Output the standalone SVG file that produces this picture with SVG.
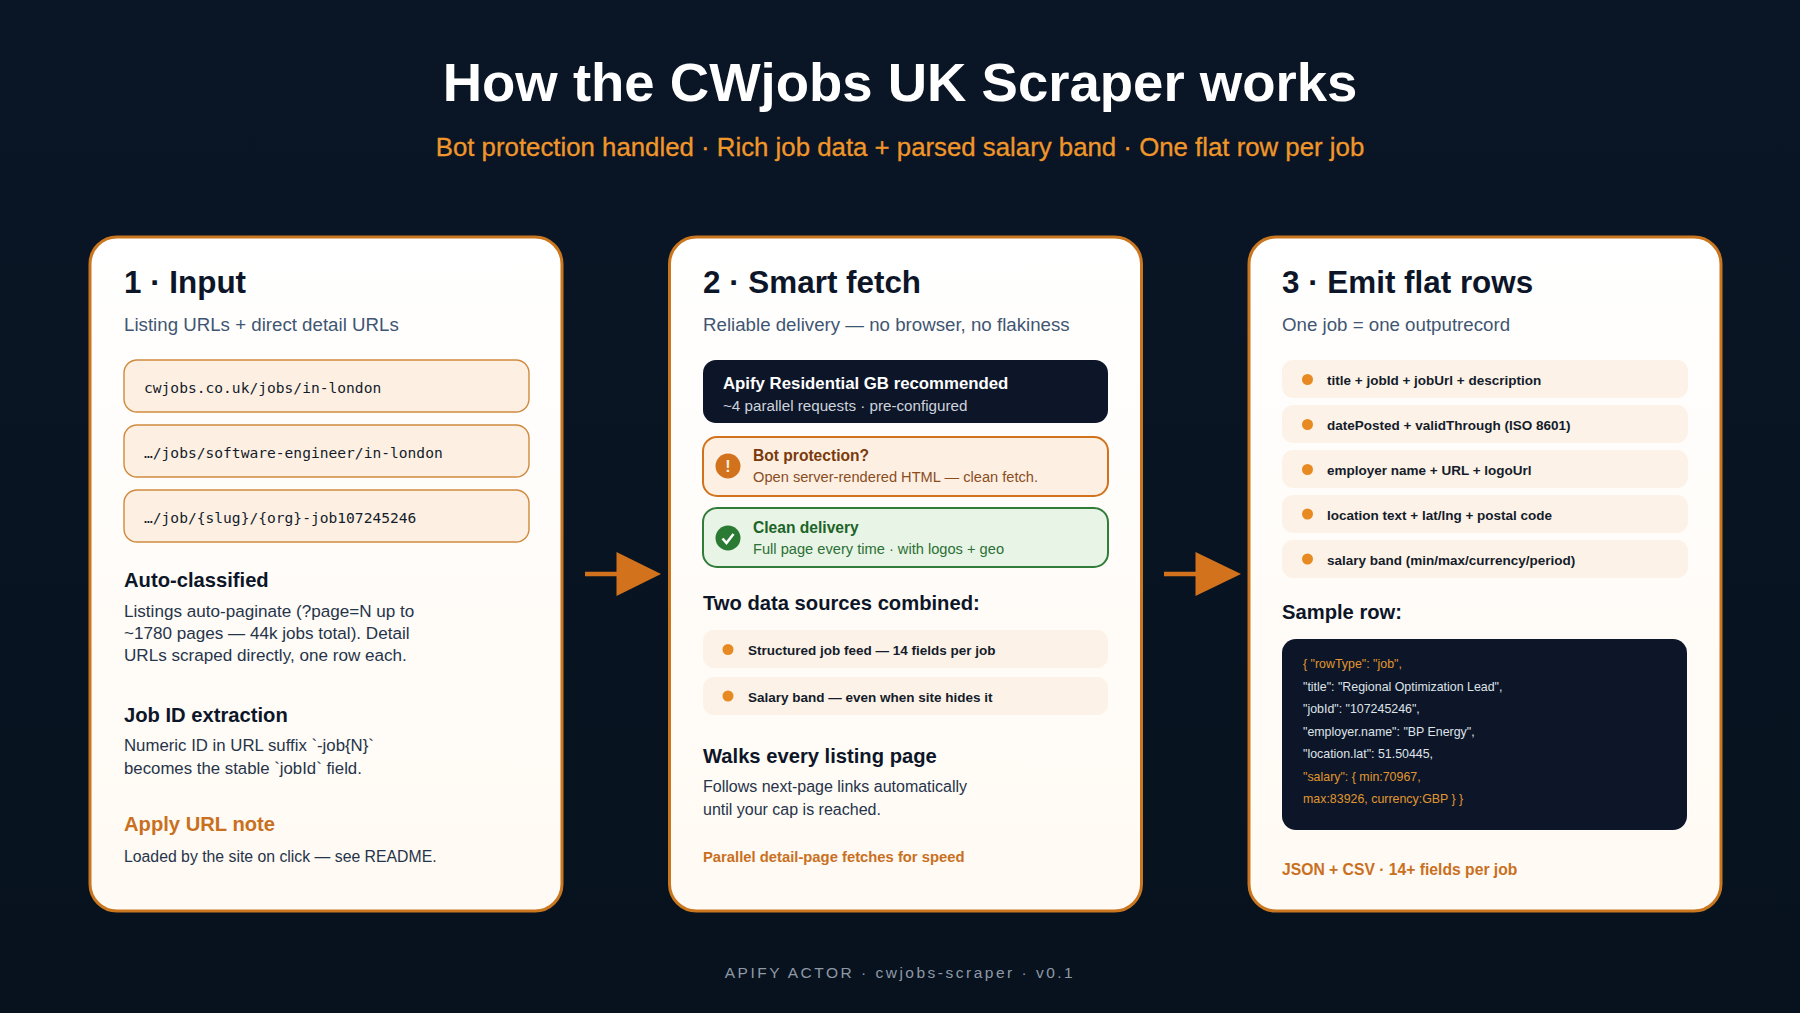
<svg xmlns="http://www.w3.org/2000/svg" width="1800" height="1013" viewBox="0 0 1800 1013">
<defs>
<linearGradient id="cardFill" x1="0" y1="0" x2="0" y2="1"><stop offset="0" stop-color="#ffffff"/><stop offset="0.3" stop-color="#fffdfb"/><stop offset="1" stop-color="#fffaf3"/></linearGradient>
<linearGradient id="bgFill" x1="0" y1="0" x2="0" y2="1"><stop offset="0" stop-color="#0a1626"/><stop offset="1" stop-color="#07121e"/></linearGradient>
</defs>
<style>
text{font-family:"Liberation Sans",Arial,sans-serif}
.card{fill:url(#cardFill);stroke:#c9761f;stroke-width:3}
.h{font-size:31.4px;font-weight:700;fill:#0d1628}
.sub{font-size:18.7px;fill:#3f5672}
.url{fill:#fdf0e3;stroke:#cf8a3e;stroke-width:1.4}
.mono{font-family:"DejaVu Sans Mono","Liberation Mono",monospace;font-size:14.6px;fill:#141c2b}
.h2{font-size:20.2px;font-weight:700;fill:#0d1628}
.b{font-size:16.8px;fill:#26344a}
.o{font-weight:700;fill:#c9701f}
.pill{fill:#fdf2e7}
.dot{fill:#e88a22}
.pt{font-size:13.5px;font-weight:700;fill:#141c2b}
.code{font-size:12.4px;fill:#dfe3e8}
.codeo{font-size:12.4px;fill:#e0962f}
.arr{fill:#d2721c;stroke:#d2721c}
</style>
<rect width="1800" height="1013" fill="url(#bgFill)"/>
<text x="900" y="101" text-anchor="middle" font-size="54.500" font-weight="700" fill="#ffffff">How the CWjobs UK Scraper works</text>
<text x="900" y="156" text-anchor="middle" font-size="25.800" fill="#f0962a" stroke="#f0962a" stroke-width="0.300">Bot protection handled · Rich job data + parsed salary band · One flat row per job</text>
<g id="connectors">
<g id="arrow1"><line class="arr" x1="585" y1="574" x2="620" y2="574" stroke-width="4.500"/><polygon class="arr" style="stroke:none" points="616.500,552 661,574 616.500,596"/></g>
<g id="arrow2"><line class="arr" x1="1164" y1="574" x2="1199" y2="574" stroke-width="4.500"/><polygon class="arr" style="stroke:none" points="1195.500,552 1241,574 1195.500,596"/></g>
</g>
<g id="card1">
<rect class="card" x="90" y="237" width="472" height="674" rx="27"/>
<text class="h" x="124" y="293">1 · Input</text>
<text class="sub" x="124" y="331">Listing URLs + direct detail URLs</text>
<rect class="url" x="124" y="360" width="405" height="52" rx="13"/>
<text class="mono" x="144" y="393">cwjobs.co.uk/jobs/in-london</text>
<rect class="url" x="124" y="425" width="405" height="52" rx="13"/>
<text class="mono" x="144" y="458">…/jobs/software-engineer/in-london</text>
<rect class="url" x="124" y="490" width="405" height="52" rx="13"/>
<text class="mono" x="144" y="523">…/job/{slug}/{org}-job107245246</text>
<text class="h2" x="124" y="587">Auto-classified</text>
<text class="b" x="124" y="617" style="font-size:17.100px">Listings auto-paginate (?page=N up to</text>
<text class="b" x="124" y="639" style="font-size:17.100px">~1780 pages — 44k jobs total). Detail</text>
<text class="b" x="124" y="661" style="font-size:17.100px">URLs scraped directly, one row each.</text>
<text class="h2" x="124" y="722">Job ID extraction</text>
<text class="b" x="124" y="751">Numeric ID in URL suffix `-job{N}`</text>
<text class="b" x="124" y="774">becomes the stable `jobId` field.</text>
<text class="o" x="124" y="831" font-size="20.200">Apply URL note</text>
<text class="b" x="124" y="862" style="font-size:15.800px">Loaded by the site on click — see README.</text>
</g>
<g id="card2">
<rect class="card" x="669.500" y="237" width="472" height="674" rx="27"/>
<text class="h" x="703" y="293">2 · Smart fetch</text>
<text class="sub" x="703" y="331">Reliable delivery — no browser, no flakiness</text>
<g id="proxy"><rect x="703" y="360" width="405" height="63" rx="13" fill="#0d1628"/>
<text x="723" y="389" font-size="16.800" font-weight="700" fill="#ffffff">Apify Residential GB recommended</text>
<text x="723" y="411" font-size="15.200" fill="#ccd3dd">~4 parallel requests · pre-configured</text></g>
<g id="bot"><rect x="703" y="437" width="405" height="59" rx="14" fill="#fdf0e3" stroke="#d2721c" stroke-width="2"/>
<circle cx="728" cy="466" r="12.500" fill="#d2721c"/><text x="728" y="472" text-anchor="middle" font-size="16" font-weight="700" fill="#fdf0e3">!</text>
<text x="753" y="461" font-size="15.600" font-weight="700" fill="#7a3a0c">Bot protection?</text>
<text x="753" y="482" font-size="14.650" fill="#8a4d1e">Open server-rendered HTML — clean fetch.</text></g>
<g id="clean"><rect x="703" y="508" width="405" height="59" rx="14" fill="#e8f4e6" stroke="#2f7d38" stroke-width="2"/>
<circle cx="728" cy="538" r="12.500" fill="#2a7a34"/><path d="M722.500 538.500l4 4.500 7-9" fill="none" stroke="#ffffff" stroke-width="2.600"/>
<text x="753" y="533" font-size="15.600" font-weight="700" fill="#1c6428">Clean delivery</text>
<text x="753" y="554" font-size="14.650" fill="#2b7034">Full page every time · with logos + geo</text></g>
<text class="h2" x="703" y="610">Two data sources combined:</text>
<rect class="pill" x="703" y="630" width="405" height="38" rx="11"/>
<circle class="dot" cx="728" cy="649.500" r="5.500"/>
<text class="pt" x="748" y="655">Structured job feed — 14 fields per job</text>
<rect class="pill" x="703" y="677" width="405" height="38" rx="11"/>
<circle class="dot" cx="728" cy="696" r="5.500"/>
<text class="pt" x="748" y="702">Salary band — even when site hides it</text>
<text class="h2" x="703" y="763">Walks every listing page</text>
<text class="b" x="703" y="792" style="font-size:16px">Follows next-page links automatically</text>
<text class="b" x="703" y="815" style="font-size:16px">until your cap is reached.</text>
<text class="o" x="703" y="862" font-size="14.800">Parallel detail-page fetches for speed</text>
</g>
<g id="card3">
<rect class="card" x="1249" y="237" width="472" height="674" rx="27"/>
<text class="h" x="1282" y="293">3 · Emit flat rows</text>
<text class="sub" x="1282" y="331">One job = one outputrecord</text>
<rect class="pill" x="1282" y="360" width="406" height="38" rx="11"/>
<circle class="dot" cx="1307.500" cy="379.500" r="5.500"/>
<text class="pt" x="1327" y="385">title + jobId + jobUrl + description</text>
<rect class="pill" x="1282" y="405" width="406" height="38" rx="11"/>
<circle class="dot" cx="1307.500" cy="424.500" r="5.500"/>
<text class="pt" x="1327" y="430">datePosted + validThrough (ISO 8601)</text>
<rect class="pill" x="1282" y="450" width="406" height="38" rx="11"/>
<circle class="dot" cx="1307.500" cy="469.500" r="5.500"/>
<text class="pt" x="1327" y="475">employer name + URL + logoUrl</text>
<rect class="pill" x="1282" y="495" width="406" height="38" rx="11"/>
<circle class="dot" cx="1307.500" cy="514" r="5.500"/>
<text class="pt" x="1327" y="520">location text + lat/lng + postal code</text>
<rect class="pill" x="1282" y="540" width="406" height="38" rx="11"/>
<circle class="dot" cx="1307.500" cy="559" r="5.500"/>
<text class="pt" x="1327" y="565">salary band (min/max/currency/period)</text>
<text class="h2" x="1282" y="619">Sample row:</text>
<rect x="1282" y="639" width="405" height="191" rx="14" fill="#0d1628"/>
<text class="codeo" x="1303" y="668">{ "rowType": "job",</text>
<text class="code" x="1303" y="691">"title": "Regional Optimization Lead",</text>
<text class="code" x="1303" y="713">"jobId": "107245246",</text>
<text class="code" x="1303" y="736">"employer.name": "BP Energy",</text>
<text class="code" x="1303" y="758">"location.lat": 51.50445,</text>
<text class="codeo" x="1303" y="781">"salary": { min:70967,</text>
<text class="codeo" x="1303" y="803">max:83926, currency:GBP } }</text>
<text class="o" x="1282" y="875" font-size="15.700">JSON + CSV · 14+ fields per job</text>
</g>
<text x="900" y="978" text-anchor="middle" font-size="15.500" letter-spacing="2.500" fill="#8f99a6">APIFY ACTOR · cwjobs-scraper · v0.1</text>
</svg>
